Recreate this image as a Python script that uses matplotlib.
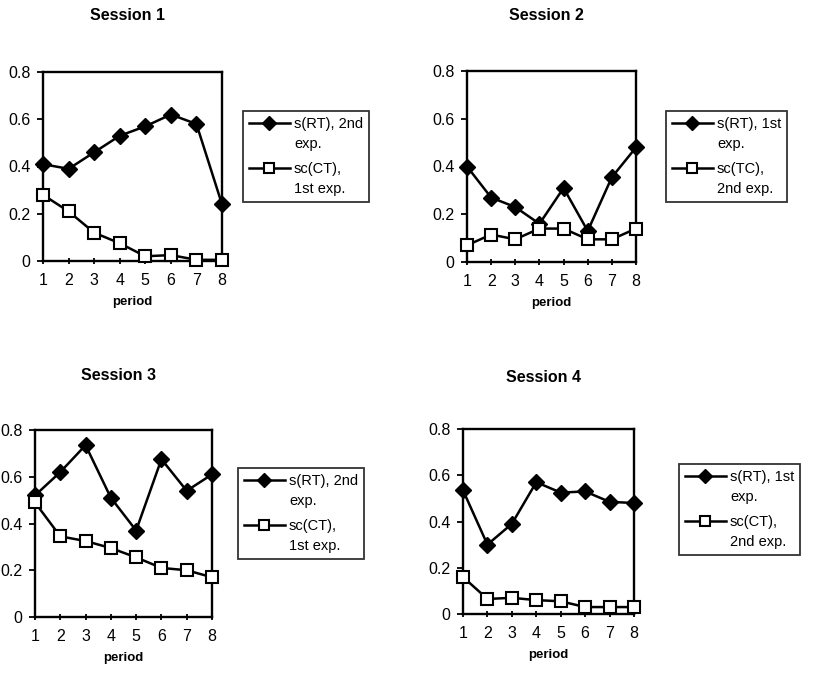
import numpy as np
import matplotlib.pyplot as plt
from matplotlib.legend_handler import HandlerLine2D

plt.rcParams['font.family'] = ['Liberation Sans', 'DejaVu Sans']

periods = [1, 2, 3, 4, 5, 6, 7, 8]

# session 1
s1_rt = [0.41, 0.39, 0.46, 0.53, 0.57, 0.62, 0.58, 0.24]
s1_ct = [0.28, 0.21, 0.12, 0.075, 0.02, 0.025, 0.005, 0.005]
# session 2
s2_rt = [0.40, 0.27, 0.23, 0.16, 0.31, 0.13, 0.355, 0.48]
s2_tc = [0.07, 0.115, 0.095, 0.14, 0.14, 0.095, 0.095, 0.14]
# session 3
s3_rt = [0.52, 0.62, 0.735, 0.51, 0.37, 0.675, 0.54, 0.61]
s3_ct = [0.49, 0.345, 0.325, 0.295, 0.255, 0.21, 0.20, 0.17]
# session 4
s4_rt = [0.535, 0.30, 0.39, 0.57, 0.525, 0.53, 0.485, 0.48]
s4_ct = [0.16, 0.065, 0.07, 0.06, 0.055, 0.03, 0.03, 0.03]

titles = ['Session 1', 'Session 2', 'Session 3', 'Session 4']
rt_labels = ['s(RT), 2nd\nexp.', 's(RT), 1st\nexp.', 's(RT), 2nd\nexp.', 's(RT), 1st\nexp.']
ct_labels = ['sc(CT),\n1st exp.', 'sc(TC),\n2nd exp.', 'sc(CT),\n1st exp.', 'sc(CT),\n2nd exp.']
rt_data = [s1_rt, s2_rt, s3_rt, s4_rt]
ct_data = [s1_ct, s2_tc, s3_ct, s4_ct]


# legend handle sits on the first text line, like the old Excel charts
class FirstLineHandler(HandlerLine2D):
    def create_artists(self, legend, orig_handle, xdescent, ydescent,
                       width, height, fontsize, trans):
        arts = super().create_artists(legend, orig_handle, xdescent, ydescent,
                                      width, height, fontsize, trans)
        for a in arts:
            a.set_ydata(np.asarray(a.get_ydata()) + 0.8 * fontsize)
            a.set_markersize(a.get_markersize() * 0.85)
        return arts


# axes boxes in pixels: left, top, right, bottom
W, H = 817, 681
boxes = [(43, 72, 222, 261), (467, 71, 636, 262), (35, 430, 212, 617), (463, 429, 634, 614)]
legend_pos = [(243, 111), (666, 111), (238, 468), (679, 464)]
title_y = [15, 15, 376, 378]

fig = plt.figure(figsize=(W / 100, H / 100), dpi=100)

for i in range(4):
    l, t, r, b = boxes[i]
    ax = fig.add_axes([l / W, 1 - b / H, (r - l) / W, (b - t) / H])
    ax.plot(periods, rt_data[i], color='black', lw=1.8, marker='D', ms=8,
            mfc='black', mec='black', label=rt_labels[i], clip_on=False, zorder=3)
    ax.plot(periods, ct_data[i], color='black', lw=1.8, marker='s', ms=8.5,
            mfc='white', mec='black', mew=1.5, label=ct_labels[i], clip_on=False, zorder=3)
    ax.set_xlim(1, 8)
    ax.set_ylim(0, 0.8)
    ax.set_xticks(periods)
    ax.set_yticks([0, 0.2, 0.4, 0.6, 0.8])
    ax.set_yticklabels(['0', '0.2', '0.4', '0.6', '0.8'])
    ax.tick_params(axis='x', direction='inout', length=5, width=1.3, labelsize=11.5, pad=6)
    ax.tick_params(axis='y', direction='out', length=4, width=1.3, labelsize=11.5, pad=5)
    for sp in ax.spines.values():
        sp.set_linewidth(1.7)
    fig.text((l + r) / 2 / W - 0.006, 1 - title_y[i] / H, titles[i], fontsize=11.5,
             fontweight='bold', ha='center', va='center')
    ax.set_xlabel('period', fontsize=9.5, fontweight='bold', labelpad=6)
    lx, ly = legend_pos[i]
    leg = ax.legend(loc='upper left', bbox_to_anchor=(lx / W, 1 - ly / H),
                    bbox_transform=fig.transFigure, fontsize=10.5, frameon=True,
                    fancybox=False, edgecolor='black', handlelength=2.8,
                    handletextpad=0.3, borderpad=0.4, labelspacing=0.7,
                    borderaxespad=0, handler_map={plt.Line2D: FirstLineHandler()})
    leg.get_frame().set_linewidth(1.3)
    for txt in leg.get_texts():
        txt.set_linespacing(1.6)

fig.savefig('out.png', dpi=100)
